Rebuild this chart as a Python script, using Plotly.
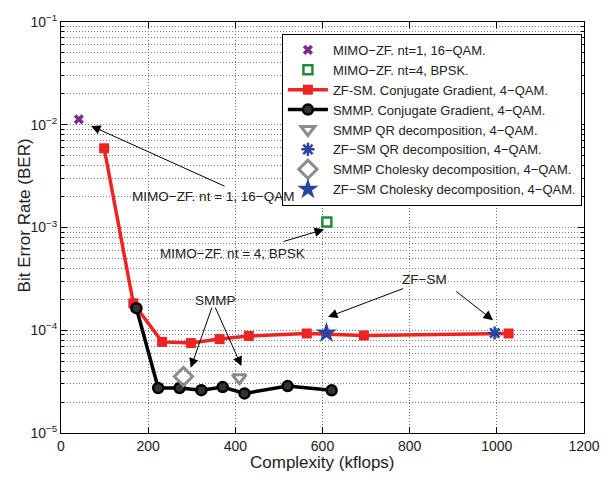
import numpy as np
import plotly.graph_objects as go

# ---------------- data ----------------
mimo1_x = [41]
mimo1_y = [0.0113]
mimo4_x = [610]
mimo4_y = [0.00113]

zfsm_cg_x = [99, 166, 232, 298, 364, 431, 564, 695, 1027]
zfsm_cg_y = [0.0059, 1.83e-4, 7.7e-5, 7.5e-5, 8.2e-5, 8.8e-5, 9.3e-5, 8.9e-5, 9.3e-5]

smmp_cg_x = [173, 223, 272, 322, 371, 421, 520, 621]
smmp_cg_y = [1.64e-4, 2.74e-5, 2.74e-5, 2.61e-5, 2.80e-5, 2.43e-5, 2.86e-5, 2.6e-5]

smmp_qr_x = [409]
smmp_qr_y = [3.45e-5]
zfsm_qr_x = [995]
zfsm_qr_y = [9.4e-5]
smmp_chol_x = [281]
smmp_chol_y = [3.55e-5]
zfsm_chol_x = [609]
zfsm_chol_y = [9.4e-5]

x_ticks = [0, 200, 400, 600, 800, 1000, 1200]
y_ticks = [1e-5, 1e-4, 1e-3, 1e-2, 1e-1]
y_ticktext = ["10<sup>−5</sup>", "10<sup>−4</sup>", "10<sup>−3</sup>", "10<sup>−2</sup>", "10<sup>−1</sup>"]

names = [
    "MIMO−ZF. nt=1, 16−QAM.",
    "MIMO−ZF. nt=4, BPSK.",
    "ZF-SM. Conjugate Gradient, 4−QAM.",
    "SMMP. Conjugate Gradient, 4−QAM.",
    "SMMP QR decomposition, 4−QAM.",
    "ZF−SM QR decomposition, 4−QAM.",
    "SMMP Cholesky decomposition, 4−QAM.",
    "ZF−SM Cholesky decomposition, 4−QAM.",
]

FONT = "Liberation Sans, Arial, sans-serif"
RED = "#ee2424"
PURPLE = "#7b2c8c"
GREEN = "#24893a"
GRAY = "#8c8c8c"
BLUE = "#2b43a3"

fig = go.Figure()
fig.add_trace(go.Scatter(x=mimo1_x, y=mimo1_y, mode="markers", name=names[0],
                         marker=dict(symbol="x", size=9, color=PURPLE)))
fig.add_trace(go.Scatter(x=mimo4_x, y=mimo4_y, mode="markers", name=names[1],
                         marker=dict(symbol="square-open", size=9, color=GREEN, line=dict(width=2.5))))
fig.add_trace(go.Scatter(x=zfsm_cg_x, y=zfsm_cg_y, mode="lines+markers", name=names[2],
                         line=dict(color=RED, width=3.5),
                         marker=dict(symbol="square", size=10, color=RED)))
fig.add_trace(go.Scatter(x=smmp_cg_x, y=smmp_cg_y, mode="lines+markers", name=names[3],
                         line=dict(color="black", width=3.5),
                         marker=dict(symbol="circle", size=10, color="#333333",
                                     line=dict(color="black", width=2.5))))
fig.add_trace(go.Scatter(x=smmp_qr_x, y=smmp_qr_y, mode="markers", name=names[4],
                         marker=dict(symbol="triangle-down-open", size=12, color=GRAY, line=dict(width=3))))
fig.add_trace(go.Scatter(x=zfsm_qr_x, y=zfsm_qr_y, mode="markers", name=names[5],
                         marker=dict(symbol="asterisk-open", size=11, color=BLUE, line=dict(width=2.5, color=BLUE))))
fig.add_trace(go.Scatter(x=smmp_chol_x, y=smmp_chol_y, mode="markers", name=names[6],
                         marker=dict(symbol="diamond-open", size=14, color=GRAY, line=dict(width=3))))
fig.add_trace(go.Scatter(x=zfsm_chol_x, y=zfsm_chol_y, mode="markers", name=names[7],
                         marker=dict(symbol="star", size=16, color=BLUE)))

minor_vals = [m * 10.0 ** e for e in range(-5, -1) for m in range(2, 10)]

grid_col = "#777777"
grid_dash = "1px,2px"
fig.update_xaxes(range=[0, 1200], tickvals=x_ticks, ticks="inside", ticklen=6,
                 tickcolor="black", showline=True, linecolor="black", linewidth=1,
                 mirror="ticks", showgrid=True, gridcolor=grid_col, griddash=grid_dash,
                 gridwidth=1, zeroline=False,
                 tickfont=dict(family=FONT, size=14, color="#222"))
fig.update_yaxes(type="log", range=[-5, -1], tickvals=y_ticks, ticktext=y_ticktext,
                 ticks="inside", ticklen=6, tickcolor="black", showline=True,
                 linecolor="black", linewidth=1, mirror="ticks", showgrid=True,
                 gridcolor=grid_col, griddash=grid_dash, gridwidth=1, zeroline=False,
                 tickfont=dict(family=FONT, size=14, color="#222"),
                 minor=dict(tickvals=minor_vals, ticks="inside", ticklen=3,
                            tickcolor="black", showgrid=True, gridcolor=grid_col,
                            griddash=grid_dash, gridwidth=1))

L, R, T, B = 61, 18, 15, 45
fig.update_layout(
    width=612, height=478,
    margin=dict(l=L, r=R, t=T, b=B, pad=0),
    paper_bgcolor="white", plot_bgcolor="white",
    font=dict(family=FONT, color="#222"),
    legend=dict(x=0.996, y=0.971, xanchor="right", yanchor="top",
                bgcolor="white", bordercolor="black", borderwidth=1,
                font=dict(family=FONT, size=13, color="#222"),
                itemwidth=40, tracegroupgap=0),
    showlegend=True,
)

arrow_kw = dict(showarrow=True, arrowhead=2, arrowsize=1.9, arrowwidth=1,
                arrowcolor="black", text="", xref="x", yref="y")
# arrows: (head x, head log10 y, tail dx px, tail dy px)
arrows = [
    (69, -2.011, 135, 61),
    (603.5, -3.019, -42, 12.5),
    (297.6, -4.366, 21.7, -61.7),
    (413.9, -4.349, -26.7, -60),
    (612.5, -3.871, 76.7, -29),
    (991.2, -3.902, -38.4, -30),
]
for hx, hy, dx, dy in arrows:
    fig.add_annotation(x=hx, y=hy, ax=dx, ay=dy, **arrow_kw)

labels = [
    ("MIMO−ZF. nt = 1, 16−QAM", 348.6, -2.70),
    ("MIMO−ZF. nt = 4, BPSK", 393.6, -3.249),
    ("SMMP", 355.3, -3.708),
    ("ZF−SM", 833.8, -3.504),
]
for t, x, y in labels:
    fig.add_annotation(x=x, y=y, text=t, showarrow=False, xref="x", yref="y",
                       xanchor="center", yanchor="middle",
                       font=dict(family=FONT, size=13.5, color="#222"))

# ellipses around highlighted points (pixel-sized, anchored to data points)
fig.add_shape(type="circle", xref="x", yref="y", xsizemode="pixel", ysizemode="pixel",
              xanchor=smmp_chol_x[0], yanchor=float(np.log10(smmp_chol_y[0])),
              x0=-11, x1=13, y0=-29, y1=13, line=dict(color="black", width=1))
fig.add_shape(type="circle", xref="x", yref="y", xsizemode="pixel", ysizemode="pixel",
              xanchor=zfsm_chol_x[0], yanchor=float(np.log10(zfsm_chol_y[0])),
              x0=-11, x1=12, y0=-22, y1=18, line=dict(color="black", width=1))

# axis titles
fig.add_annotation(text="Complexity (kflops)", xref="paper", yref="paper",
                   x=(328 - L) / (612 - L - R), y=-(463 - (478 - B)) / (478 - T - B),
                   xanchor="center", yanchor="middle",
                   showarrow=False, font=dict(family=FONT, size=17, color="#222"))
fig.add_annotation(text="Bit Error Rate (BER)", xref="paper", yref="paper",
                   x=(24 - L) / (612 - L - R), y=((478 - B) - 212) / (478 - T - B),
                   xanchor="center", yanchor="middle",
                   textangle=-90, showarrow=False,
                   font=dict(family=FONT, size=17, color="#222"))

fig.write_html("out.html")
